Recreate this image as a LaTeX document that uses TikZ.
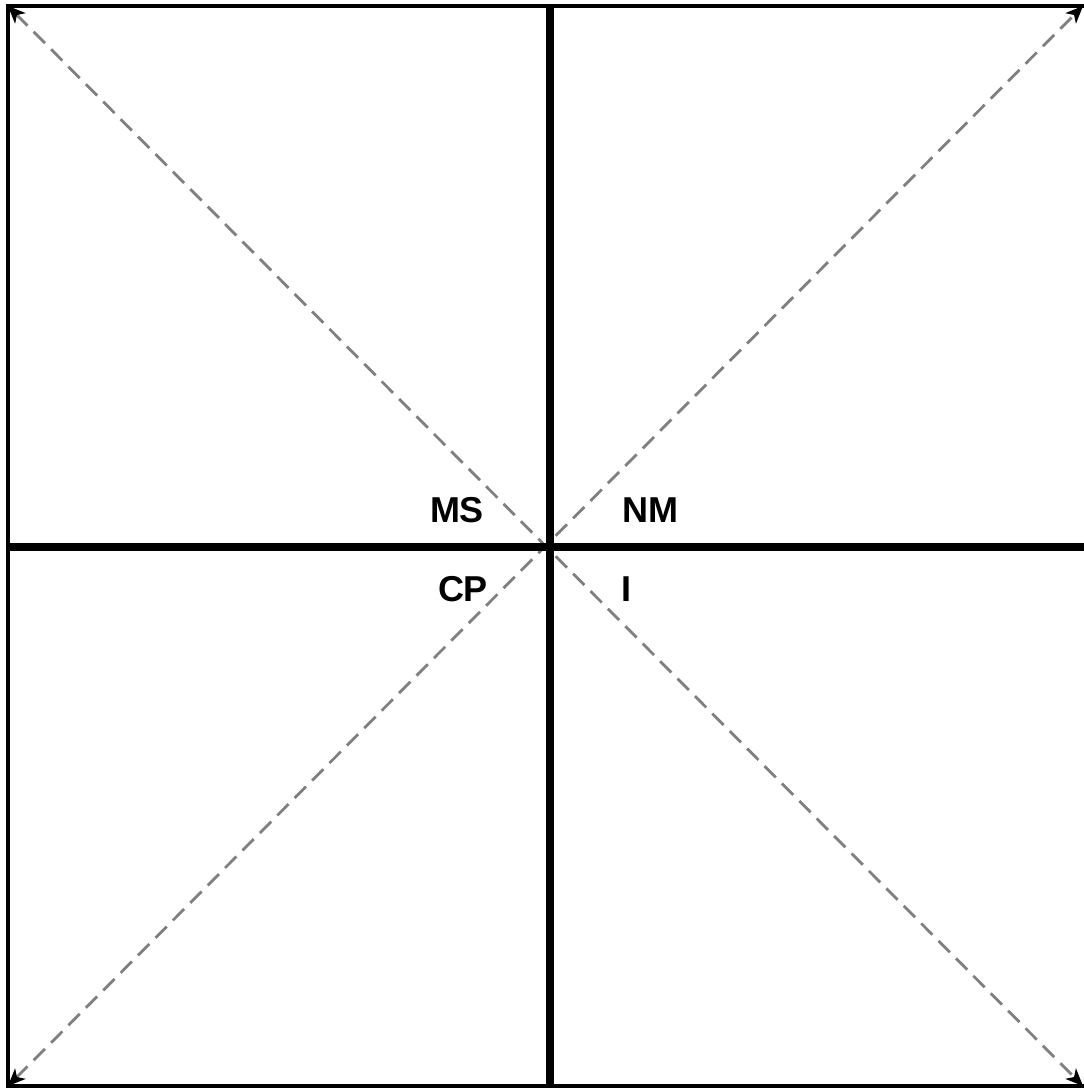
\documentclass[tikz,border=0pt]{standalone}
\usepackage{fontspec}
\setmainfont{Liberation Sans}
\usetikzlibrary{arrows.meta}
\begin{document}
\begin{tikzpicture}[x=0.75pt,y=-0.75pt,
  frame/.style={line width=2.4pt,black},
  axis/.style={line width=5.6pt,black},
  diag/.style={line width=2.1pt,draw={rgb,255:red,128;green,128;blue,128},dash pattern=on 12pt off 6.5pt,
    {Stealth[length=13pt,width=11pt,inset=3.5pt,black]}-{Stealth[length=13pt,width=11pt,inset=3.5pt,black]}},
  lab/.style={font=\fontsize{27}{30}\selectfont\bfseries,inner sep=0pt}]
\useasboundingbox (0,0) rectangle (1084,1088);
\clip (0,0) rectangle (1084,1088);
\coordinate (tl) at (8,6);
\coordinate (tr) at (1083,6);
\coordinate (bl) at (8,1086);
\coordinate (br) at (1083,1086);
\coordinate (top) at (550,6);
\coordinate (bot) at (550,1088);
\coordinate (lft) at (8,547);
\coordinate (rgt) at (1090,547);
\draw[diag] (tl) -- (br);
\draw[diag] (bl) -- (tr);
\draw[frame] (8,6) rectangle (1093,1086);
\draw[axis] (top) -- (bot);
\draw[axis] (lft) -- (rgt);
\node[lab] (ms) at (457,510) {MS};
\node[lab] (nm) at (650,510) {NM};
\node[lab] (cp) at (463,589) {CP};
\node[lab] (i) at (626,589) {I};
\end{tikzpicture}
\end{document}
